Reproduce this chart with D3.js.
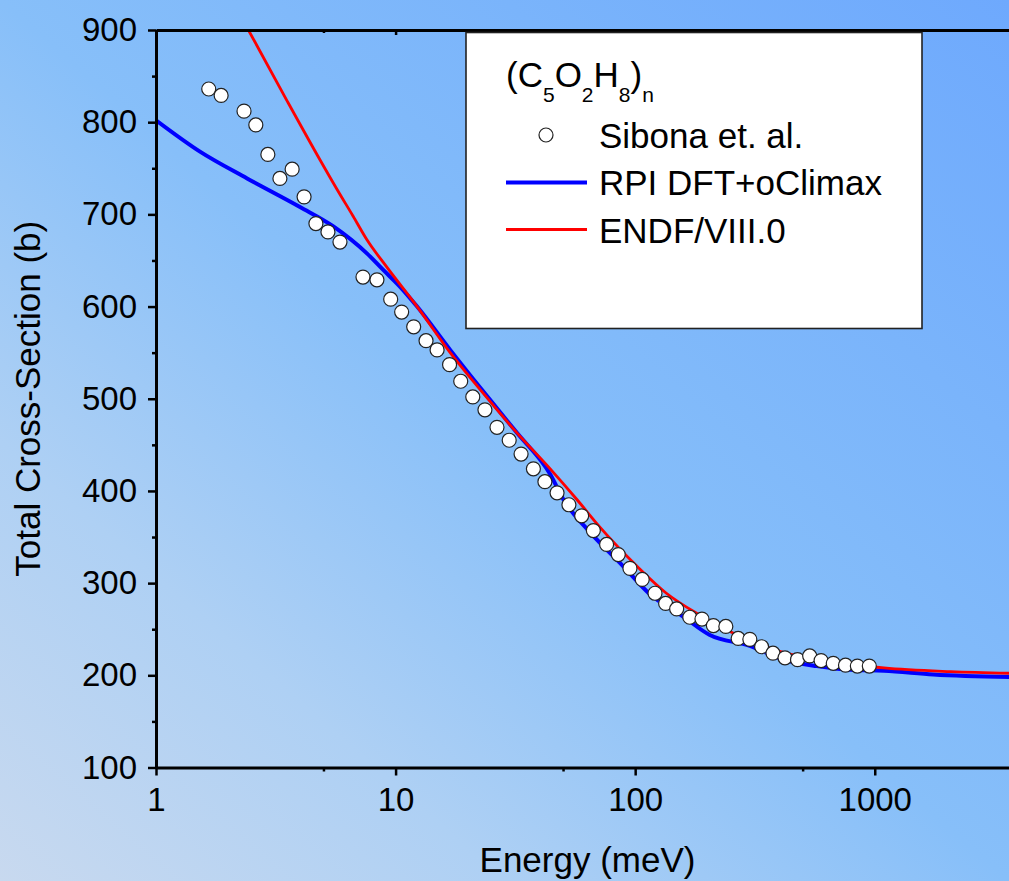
<!DOCTYPE html>
<html>
<head>
<meta charset="utf-8">
<script src="https://cdn.jsdelivr.net/npm/d3@7"></script>
<style>
  html, body { margin: 0; padding: 0; background: #fff; }
  svg { display: block; font-family: "Liberation Sans", Arial, sans-serif; }
</style>
</head>
<body>
<svg id="chart" width="1009" height="881"></svg>
<script>
// ---- data ----
const sibonaE = [1.66, 1.87, 2.33, 2.61, 2.93, 3.29, 3.70, 4.15, 4.65, 5.22,
                 5.86, 7.31, 8.36, 9.54, 10.6, 11.9, 13.4, 14.9, 16.8, 18.7,
                 21.0, 23.6, 26.5, 29.8, 33.4, 37.6, 42.0, 47.2, 52.9, 59.8,
                 66.9, 76.0, 85.0, 95.1, 107, 121, 134, 149, 169, 190,
                 212, 239, 269, 301, 337, 376, 422, 476, 535, 597,
                 671, 755, 846, 949];
const sibonaS = [836, 829, 812, 797, 765, 739, 749, 719, 690, 681,
                 670, 632, 629, 608, 594, 578, 563, 553, 537, 519,
                 502, 488, 469, 455, 440, 424, 410, 398, 385, 373,
                 357, 342, 331, 316, 304, 289, 278, 272, 263, 261,
                 254, 253, 240, 239, 231, 224, 219, 217, 221, 216,
                 213, 211, 210, 210];

const rpiE = [1, 1.526, 2.4, 3.99, 5.50, 7.57, 8.86, 10.4, 12.3, 16.9, 23.2,
              32.1, 44.2, 50.1, 64.9, 89.4, 114, 158, 204, 301, 415,
              573, 792, 1093, 1755, 4000];
const rpiS = [802, 768, 739, 708, 687, 658, 640, 622, 600, 553, 508,
              463, 418, 391, 355, 318, 289, 264, 244, 232, 217,
              210, 206, 205, 201, 198];

const endfE = [2.43, 3.51, 4.84, 5.7, 6.65, 7.57, 9.18, 12.3, 16.9, 23.2, 32.1, 44.2,
               57.0, 71.1, 103, 135, 184, 256, 401, 573, 792, 1093,
               2076, 4000];
const endfS = [900, 824, 759, 727, 698, 673, 643, 600, 550, 506, 463, 424,
               391, 361, 317, 289, 266, 246, 226, 217, 212, 208,
               204, 202];

const xMajorTicks = [1, 10, 100, 1000];
const xMinorTicks = [5, 50, 500];
const yMajorTicks = [100, 200, 300, 400, 500, 600, 700, 800, 900];
const yMinorTicks = [150, 250, 350, 450, 550, 650, 750, 850];

const legendTitle = {main: ["(C", "O", "H", ")"], sub: ["5", "2", "8", "n"]};
const seriesNames = ["Sibona et. al.", "RPI DFT+oClimax", "ENDF/VIII.0"];
const xTitle = "Energy (meV)";
const yTitle = "Total Cross-Section (b)";

// ---- layout ----
const W = 1009, H = 881;
const pLeft = 156, pRight = 1019, pTop = 30, pBottom = 767.5;

const svg = d3.select("#chart");

// background gradient
const defs = svg.append("defs");
const grad = defs.append("linearGradient").attr("id", "bg")
  .attr("x1", 0).attr("y1", 1).attr("x2", 1).attr("y2", 0);
[[0, "#c8d9ef"], [0.25, "#aed0f4"], [0.5, "#87bff9"], [0.75, "#7ab4fb"], [1, "#6ea9fd"]]
  .forEach(([o, c]) => grad.append("stop").attr("offset", o).attr("stop-color", c));
svg.append("rect").attr("width", W).attr("height", H).attr("fill", "url(#bg)");

defs.append("clipPath").attr("id", "plotclip")
  .append("rect").attr("x", pLeft).attr("y", pTop).attr("width", pRight - pLeft).attr("height", pBottom - pTop);

const x = d3.scaleLog().domain([1, 4000]).range([pLeft, pRight]);
const y = d3.scaleLinear().domain([100, 900]).range([pBottom, pTop]);

// ---- curves ----
const line = d3.line().x(d => x(d[0])).y(d => y(d[1])).curve(d3.curveMonotoneX);
const plot = svg.append("g").attr("clip-path", "url(#plotclip)");

plot.append("path").datum(rpiE.map((e, i) => [e, rpiS[i]]))
  .attr("d", line).attr("fill", "none").attr("stroke", "#0000ff").attr("stroke-width", 4)
  .attr("stroke-linejoin", "round");
plot.append("path").datum(endfE.map((e, i) => [e, endfS[i]]))
  .attr("d", line).attr("fill", "none").attr("stroke", "#ff0000").attr("stroke-width", 2.8)
  .attr("stroke-linejoin", "round");

svg.append("g").selectAll("circle")
  .data(sibonaE.map((e, i) => [e, sibonaS[i]]))
  .join("circle")
  .attr("cx", d => x(d[0])).attr("cy", d => y(d[1])).attr("r", 7)
  .attr("fill", "#ffffff").attr("stroke", "#222").attr("stroke-width", 1.2);

// ---- axes ----
function styleAxis(g) {
  g.select(".domain").attr("stroke", "#000").attr("stroke-width", 3);
  g.selectAll(".tick line").attr("stroke", "#000").attr("stroke-width", 2.5);
  g.selectAll(".tick text").attr("fill", "#000").attr("font-size", 33)
   .attr("font-family", "'Liberation Sans', Arial, sans-serif");
}

// bottom
const gxb = svg.append("g").attr("transform", `translate(0,${pBottom})`)
  .call(d3.axisBottom(x).tickValues(xMajorTicks).tickFormat(d3.format("d"))
        .tickSize(8).tickSizeOuter(0).tickPadding(12));
styleAxis(gxb);
const gxbm = svg.append("g").attr("transform", `translate(0,${pBottom})`)
  .call(d3.axisBottom(x).tickValues(xMinorTicks).tickFormat("").tickSize(4).tickSizeOuter(0));
styleAxis(gxbm);
gxbm.select(".domain").remove();

// top (ticks inward)
const gxt = svg.append("g").attr("transform", `translate(0,${pTop})`)
  .call(d3.axisTop(x).tickValues(xMajorTicks).tickFormat("").tickSize(-5).tickSizeOuter(0));
styleAxis(gxt);
const gxtm = svg.append("g").attr("transform", `translate(0,${pTop})`)
  .call(d3.axisTop(x).tickValues(xMinorTicks).tickFormat("").tickSize(-3).tickSizeOuter(0));
styleAxis(gxtm);
gxtm.select(".domain").remove();

// left
const gyl = svg.append("g").attr("transform", `translate(${pLeft},0)`)
  .call(d3.axisLeft(y).tickValues(yMajorTicks).tickFormat(d3.format("d"))
        .tickSize(8).tickSizeOuter(0).tickPadding(11));
styleAxis(gyl);
const gylm = svg.append("g").attr("transform", `translate(${pLeft},0)`)
  .call(d3.axisLeft(y).tickValues(yMinorTicks).tickFormat("").tickSize(4).tickSizeOuter(0));
styleAxis(gylm);
gylm.select(".domain").remove();

// axis titles
svg.append("text").attr("x", (pLeft + pRight) / 2).attr("y", 872)
  .attr("text-anchor", "middle").attr("font-size", 35).attr("fill", "#000").text(xTitle);
svg.append("text").attr("transform", `translate(40,${(pTop + pBottom) / 2}) rotate(-90)`)
  .attr("text-anchor", "middle").attr("font-size", 35).attr("fill", "#000").text(yTitle);

// ---- legend ----
const lg = svg.append("g");
lg.append("rect").attr("x", 466).attr("y", 32.5).attr("width", 456).attr("height", 296)
  .attr("fill", "#fff").attr("stroke", "#222").attr("stroke-width", 1.6);

const tt = lg.append("text").attr("x", 506).attr("y", 87).attr("font-size", 35).attr("fill", "#000");
legendTitle.main.forEach((m, i) => {
  tt.append("tspan").attr("font-size", 35).attr("dy", i === 0 ? 0 : -15).text(m);
  tt.append("tspan").attr("font-size", 21).attr("dy", 15).text(legendTitle.sub[i]);
});

lg.append("circle").attr("cx", 546).attr("cy", 135).attr("r", 7)
  .attr("fill", "#fff").attr("stroke", "#222").attr("stroke-width", 1.2);
lg.append("line").attr("x1", 506).attr("x2", 587).attr("y1", 182.5).attr("y2", 182.5)
  .attr("stroke", "#0000ff").attr("stroke-width", 4);
lg.append("line").attr("x1", 506).attr("x2", 587).attr("y1", 229.5).attr("y2", 229.5)
  .attr("stroke", "#ff0000").attr("stroke-width", 2.8);

[148, 195, 243].forEach((yy, i) => {
  lg.append("text").attr("x", 599).attr("y", yy).attr("font-size", 35)
    .attr("fill", "#000").text(seriesNames[i]);
});
</script>
</body>
</html>
